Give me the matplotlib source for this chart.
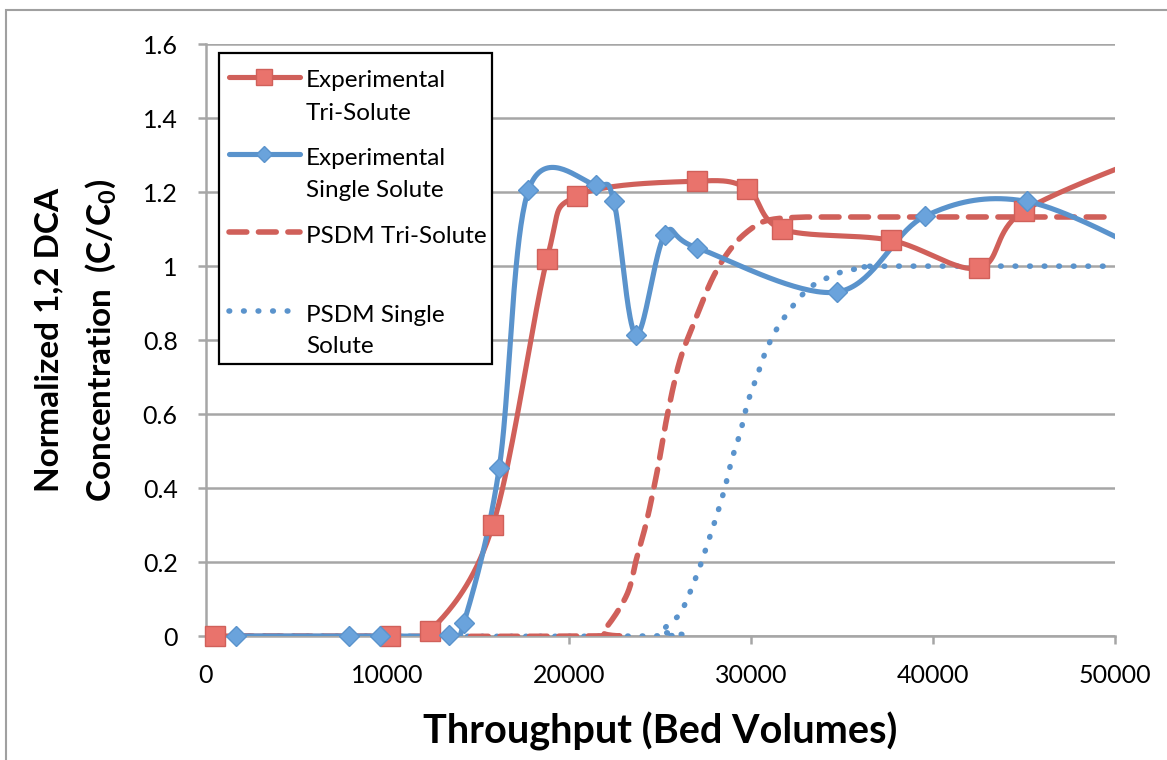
import numpy as np
import matplotlib
matplotlib.use("Agg")
import matplotlib.pyplot as plt
from matplotlib.lines import Line2D
from matplotlib.patches import Rectangle

plt.rcParams['font.family'] = ['Lato', 'DejaVu Sans']

# ---- data -------------------------------------------------------------
exp_tri_bv = [500, 10150, 12350, 15800, 18780, 20420, 27000, 29770, 31700, 37680, 42520, 45000, 53000]
exp_tri_c = [0.0, 0.0, 0.013, 0.30, 1.02, 1.19, 1.23, 1.21, 1.10, 1.07, 0.995, 1.15, 1.32]

exp_single_bv = [1660, 7900, 9600, 13400, 14200, 16150, 17750, 21450, 22450, 23650, 25250, 27000, 34700, 39550, 45150, 52500]
exp_single_c = [0.0, 0.0, 0.0, 0.003, 0.035, 0.455, 1.205, 1.22, 1.175, 0.815, 1.085, 1.05, 0.93, 1.135, 1.175, 1.02]

psdm_tri_bv = [0, 21000, 21850, 23150, 23700, 24250, 24850, 25400, 26050, 26800, 27900, 29000, 30100, 31000, 32500, 35000, 50000]
psdm_tri_c = [0.0, 0.0, 0.013, 0.11, 0.21, 0.31, 0.45, 0.60, 0.74, 0.84, 0.97, 1.055, 1.105, 1.125, 1.132, 1.133, 1.133]

psdm_single_bv = [0, 24300, 25000, 25650, 26200, 27050, 27600, 28100, 28550, 28950, 29400, 29800, 30300, 30800, 31400, 32100, 32700, 33300, 33950, 34700, 35500, 36300, 37200, 50000]
psdm_single_c = [0.0, 0.0, 0.013, 0.04, 0.07, 0.17, 0.25, 0.325, 0.40, 0.48, 0.55, 0.63, 0.70, 0.77, 0.83, 0.88, 0.917, 0.945, 0.963, 0.98, 0.99, 0.997, 1.0, 1.0]

x_ticks = [0, 10000, 20000, 30000, 40000, 50000]
y_ticks = [0, 0.2, 0.4, 0.6, 0.8, 1.0, 1.2, 1.4, 1.6]
y_tick_labels = ["0", "0.2", "0.4", "0.6", "0.8", "1", "1.2", "1.4", "1.6"]

RED = "#D0605A"
RED_FILL = "#E9736C"
BLUE = "#5A93CC"
BLUE_FILL = "#6AA3DC"


def smooth(xs, ys, n=40):
    """Catmull-Rom style cubic Bezier smoothing through every point."""
    xs = np.asarray(xs, float)
    ys = np.asarray(ys, float)
    px = np.concatenate([[xs[0]], xs, [xs[-1]]])
    py = np.concatenate([[ys[0]], ys, [ys[-1]]])
    out_x, out_y = [], []
    t = np.linspace(0, 1, n)
    for i in range(1, len(px) - 2):
        p0 = np.array([px[i - 1], py[i - 1]])
        p1 = np.array([px[i], py[i]])
        p2 = np.array([px[i + 1], py[i + 1]])
        p3 = np.array([px[i + 2], py[i + 2]])
        c1 = p1 + (p2 - p0) / 6.0
        c2 = p2 - (p3 - p1) / 6.0
        b = ((1 - t) ** 3)[:, None] * p1 + (3 * (1 - t) ** 2 * t)[:, None] * c1 \
            + (3 * (1 - t) * t ** 2)[:, None] * c2 + (t ** 3)[:, None] * p2
        out_x.extend(b[:, 0])
        out_y.extend(b[:, 1])
    return np.array(out_x), np.array(out_y)


W, H = 1167, 760
fig = plt.figure(figsize=(W / 100, H / 100), dpi=100)
ax = fig.add_axes([205.5 / W, 1 - 636 / H, (1115 - 205.5) / W, (636 - 44.3) / H])

LW = 3.7
LW_DASH = 4.0
LW_DOT = 4.0
GRID = "#A6A6A6"
DASH = (0, (3.2, 2.1))
DOT = (0, (0.12, 2.5))

# model curves
sx, sy = smooth(psdm_single_bv, psdm_single_c, 20)
ax.plot(sx, sy, color=BLUE, lw=LW_DOT, linestyle=DOT,
        dash_capstyle='round', zorder=3)
sx, sy = smooth(psdm_tri_bv, psdm_tri_c, 20)
ax.plot(sx, sy, color=RED, lw=LW_DASH, linestyle=DASH,
        dash_capstyle='round', zorder=3)

# experimental curves
sx, sy = smooth(exp_tri_bv, exp_tri_c)
ax.plot(sx, sy, color=RED, lw=LW, solid_capstyle='round', zorder=4)
sx, sy = smooth(exp_single_bv, exp_single_c)
ax.plot(sx, sy, color=BLUE, lw=LW, solid_capstyle='round', zorder=5)

tri_in = [(x, y) for x, y in zip(exp_tri_bv, exp_tri_c) if x <= 50000]
sing_in = [(x, y) for x, y in zip(exp_single_bv, exp_single_c) if x <= 50000]
ax.plot([p[0] for p in tri_in], [p[1] for p in tri_in], linestyle='none',
        marker='s', ms=14, mfc=RED_FILL, mec=RED, mew=1.0, zorder=6, clip_on=False)
ax.plot([p[0] for p in sing_in], [p[1] for p in sing_in], linestyle='none',
        marker='D', ms=10, mfc=BLUE_FILL, mec=BLUE, mew=1.0, zorder=7, clip_on=False)

ax.set_xlim(0, 50000)
ax.set_ylim(0, 1.6)
ax.set_xticks(x_ticks)
ax.set_xticklabels([str(v) for v in x_ticks])
ax.set_yticks(y_ticks)
ax.set_yticklabels(y_tick_labels)
ax.yaxis.grid(True, color=GRID, lw=1.8)
ax.set_axisbelow(True)
for s in ("top", "right"):
    ax.spines[s].set_visible(False)
for s in ("left", "bottom"):
    ax.spines[s].set_color(GRID)
    ax.spines[s].set_linewidth(1.8)
ax.tick_params(axis='both', direction='out', length=6, width=1.8, color=GRID,
               labelsize=18, pad=14, labelcolor='black')

ax.set_xlabel("Throughput (Bed Volumes)", fontsize=28.5, fontweight='bold', labelpad=18)
ax.set_ylabel("Normalized 1,2 DCA\nConcentration  (C/C$_\\mathregular{0}$)",
              fontsize=24, fontweight='bold', labelpad=17, linespacing=1.75)

# chart area border
fig.patches.append(Rectangle((6 / W, -0.1), 1.2, 1 - 10 / H + 0.1, transform=fig.transFigure,
                             fill=False, edgecolor="#A0A0A0", lw=1.5, zorder=0))


def fpx(x, y):
    return x / W, 1 - y / H


# legend box
x0, y0 = fpx(219, 364)
x1, y1 = fpx(492, 53)
fig.patches.append(Rectangle((x0, y0), x1 - x0, y1 - y0, transform=fig.transFigure,
                             facecolor='white', edgecolor='black', lw=1.6, zorder=10))

handles = [
    dict(y=77, color=RED, ls='-', end=300, marker='s', ms=11.5, mfc=RED_FILL, lw=LW),
    dict(y=154, color=BLUE, ls='-', end=300, marker='D', ms=8.5, mfc=BLUE_FILL, lw=LW),
    dict(y=232, color=RED, ls=DASH, end=300, marker=None, ms=0, mfc=None, lw=LW_DASH),
    dict(y=311, color=BLUE, ls=DOT, end=293, marker=None, ms=0, mfc=None, lw=LW_DOT),
]
for h in handles:
    xa, ya = fpx(229, h['y'])
    xb, _ = fpx(h['end'], h['y'])
    fig.add_artist(Line2D([xa, xb], [ya, ya], transform=fig.transFigure, color=h['color'],
                          lw=h['lw'], linestyle=h['ls'], solid_capstyle='round',
                          dash_capstyle='round', zorder=11))
    if h['marker']:
        xm, _ = fpx(264, h['y'])
        fig.add_artist(Line2D([xm], [ya], transform=fig.transFigure, marker=h['marker'],
                              ms=h['ms'], mfc=h['mfc'], mec=h['color'], mew=1.0,
                              linestyle='none', zorder=12))

label_lines = [
    [(87, "Experimental"), (120, "Tri-Solute")],
    [(165, "Experimental"), (197, "Single Solute")],
    [(243, "PSDM Tri-Solute")],
    [(322, "PSDM Single"), (353, "Solute")],
]
for entry in label_lines:
    for yb, txt in entry:
        tx, ty = fpx(306, yb)
        fig.text(tx, ty, txt, fontsize=17.5, va='baseline', ha='left', zorder=12)

fig.savefig("out.png", dpi=100)
